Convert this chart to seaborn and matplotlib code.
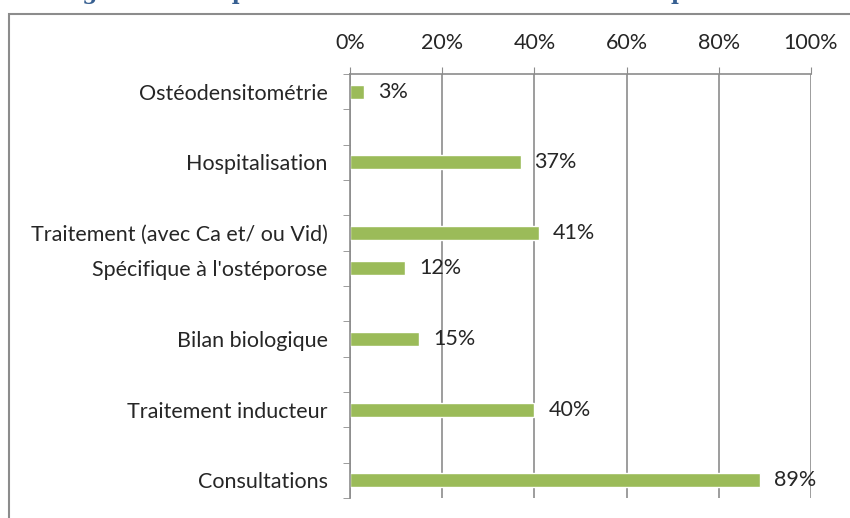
import numpy as np
import pandas as pd
import matplotlib.pyplot as plt
import seaborn as sns
from matplotlib.patches import Rectangle

# données
categories = ["Ostéodensitométrie", "Hospitalisation", "Traitement (avec Ca et/ ou Vid)",
              "Spécifique à l'ostéporose", "Bilan biologique", "Traitement inducteur",
              "Consultations"]
values = [3, 37, 41, 12, 15, 40, 89]
xtick_labels = ["0%", "20%", "40%", "60%", "80%", "100%"]
title = "Figure 1 : Les parcours de soins en dehors de l'hospitalisation"

sns.set_style("white")
plt.rcParams["font.family"] = ["Lato", "DejaVu Sans"]

df = pd.DataFrame({"cat": categories, "val": values})

# ordre des lignes avec des emplacements vides
order = [categories[0], " ", categories[1], "  ", categories[2], categories[3], "   ",
         categories[4], "    ", categories[5], "     ", categories[6]]

fig = plt.figure(figsize=(8.5, 5.18), dpi=100)
ax = fig.add_axes([350 / 850, 1 - 498 / 518, 461 / 850, 424 / 518])

sns.barplot(data=df, x="val", y="cat", order=order, color="#9BBB59",
            saturation=1, width=0.4, orient="h", ax=ax)

for c in ax.containers:
    ax.bar_label(c, labels=[f"{v:.0f}%" if not np.isnan(v) else "" for v in c.datavalues],
                 padding=10, fontsize=15.5)

ax.set_xlim(0, 100)
ax.set_ylim(len(order) - 0.5, -0.5)
ax.xaxis.tick_top()
ax.set_xticks([0, 20, 40, 60, 80, 100])
ax.set_xticklabels(xtick_labels, fontsize=15.5)
ax.tick_params(axis="x", length=5, color="#8c8c8c", pad=10)
ax.xaxis.grid(True, color="#8c8c8c", linewidth=1.2)

ax.set_yticks(range(len(order)))
ax.set_yticklabels([o if o.strip() else "" for o in order], fontsize=15.5)
ax.tick_params(axis="y", length=0, pad=16)
ax.set_yticks(np.arange(-0.5, len(order), 1), minor=True)
ax.tick_params(axis="y", which="minor", length=5, color="#8c8c8c", left=True)

ax.set_xlabel("")
ax.set_ylabel("")
for s in ["right", "bottom"]:
    ax.spines[s].set_visible(False)
for s in ["left", "top"]:
    ax.spines[s].set_color("#8c8c8c")
    ax.spines[s].set_linewidth(1.2)

# cadre du graphique et titre coupé en haut comme sur l'original
fig.patches.append(Rectangle((9 / 850, -0.1), 1.2, 1 - 14 / 518 + 0.1,
                             transform=fig.transFigure, fill=False,
                             edgecolor="#8c8c8c", linewidth=1.5))
fig.text(0.51, 1.0 - 4 / 518, title, ha="center", va="bottom", fontsize=15.5,
         fontweight="bold", color="#365F91", family="DejaVu Serif")

fig.savefig("out.png", dpi=100)
